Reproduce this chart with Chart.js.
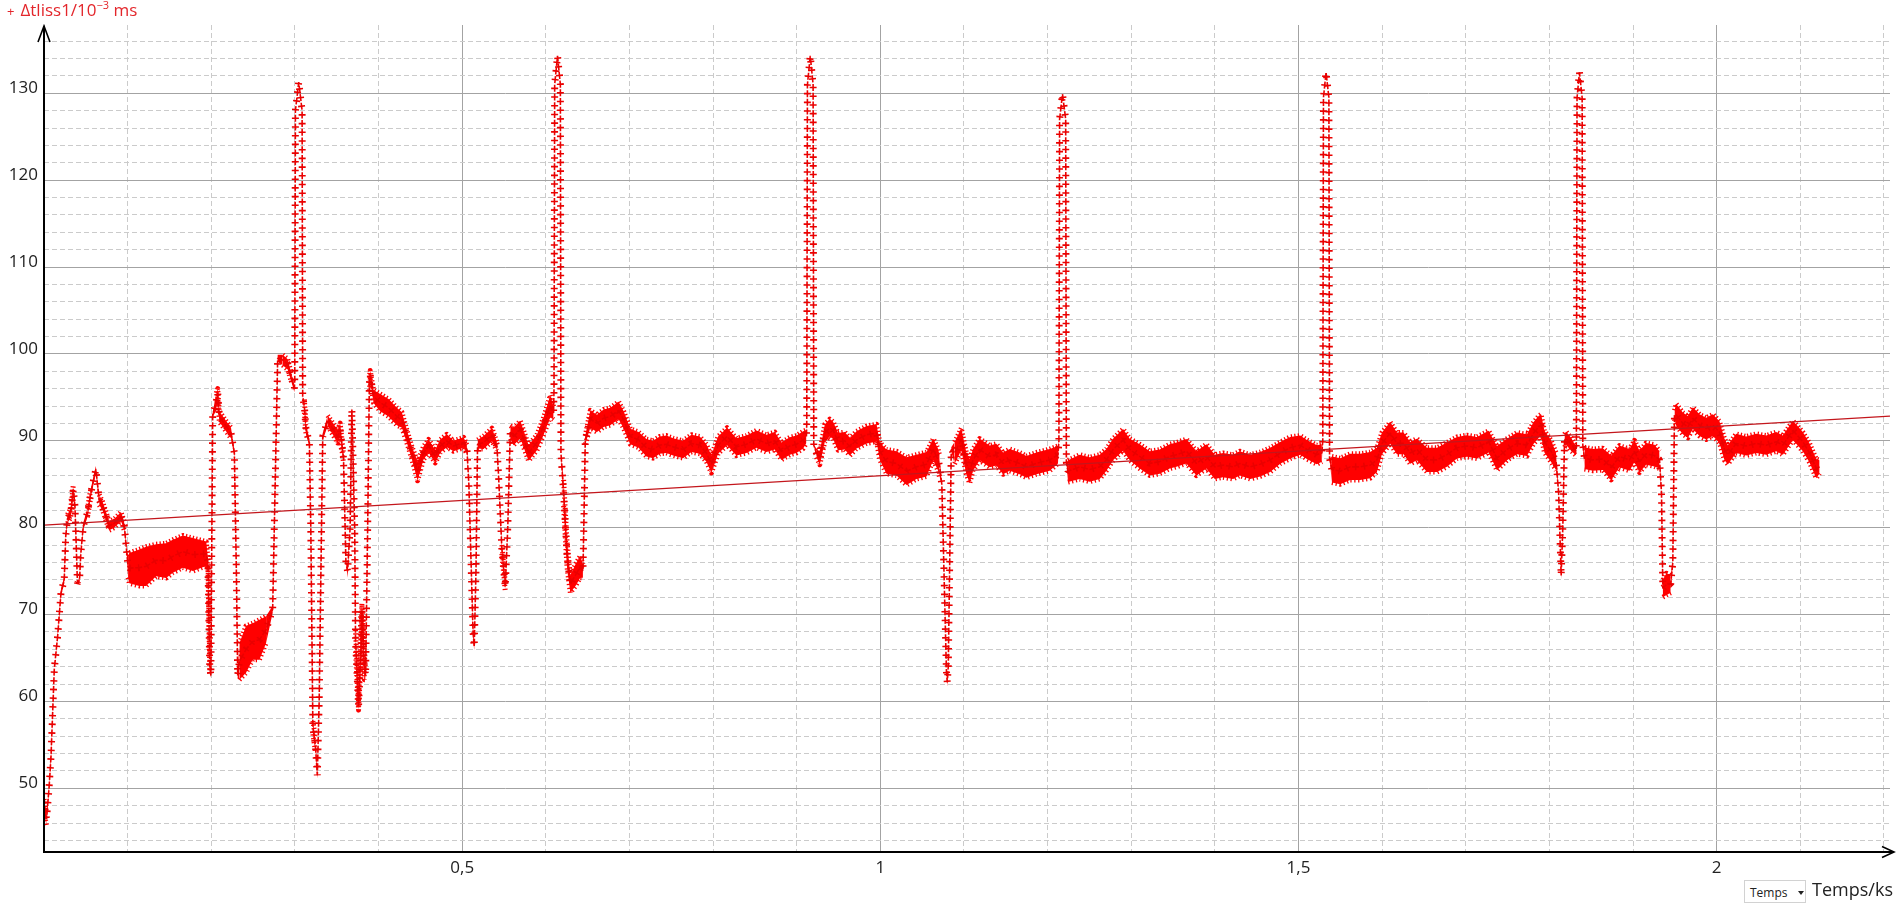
<!DOCTYPE html>
<html>
<head>
<meta charset="utf-8">
<script src="https://cdn.jsdelivr.net/npm/chart.js"></script>
<style>
  body { margin: 0; background: #fff; }
  #wrap { position: relative; width: 1896px; height: 906px; font-family: 'Open Sans', sans-serif; }
  #title { position: absolute; left: 7px; top: -3px; color: #e3262b; font-size: 17px; white-space: nowrap; }
  #title .mk { font-size: 13px; margin-right: 6px; }
  #title sup { font-size: 11px; }
  #sel { position: absolute; left: 1744px; top: 880px; width: 62px; height: 23px; border: 1px solid #d2d2d2;
         font-size: 12px; line-height: 23px; padding-left: 5px; box-sizing: border-box; color: #222; background: #fff; }
  #sel .tri { position: absolute; left: 53px; top: 10px; width: 0; height: 0;
              border-left: 3px solid transparent; border-right: 3px solid transparent; border-top: 4px solid #222; }
  #unit { position: absolute; right: 3px; top: 877px; font-size: 18px; color: #222; }
</style>
</head>
<body>
<div id="wrap">
  <canvas id="chart"></canvas>
  <div id="title"><span class="mk">+</span>Δtliss1/10<sup>−3</sup> ms</div>
  <div id="sel">Temps<span class="tri"></span></div>
  <div id="unit">Temps/ks</div>
</div>
<script>
// time in ks
const timeKs = [
  // start
  0.000, 0.003, 0.006, 0.0083, 0.0123, 0.0163, 0.0203, 0.0242, 0.026, 0.028,
  0.032, 0.035, 0.037, 0.040, 0.0425, 0.044, 0.047, 0.052, 0.056, 0.062,
  0.066, 0.070, 0.078, 0.084, 0.092, 0.096, 0.099, 0.1005,
  // 0.1 - 0.35
  0.102, 0.114, 0.122, 0.134, 0.146, 0.154, 0.166, 0.178, 0.194, 0.196,
  0.1982, 0.1995, 0.2017, 0.2060, 0.2077, 0.2096, 0.2176, 0.2236, 0.2276, 0.2300,
  0.2316, 0.2336, 0.2416, 0.2495, 0.2575, 0.2655, 0.2734, 0.2794, 0.2854, 0.2914,
  0.2954, 0.2994, 0.2998, 0.3006, 0.3046, 0.3086, 0.3093, 0.3113, 0.3133, 0.3173,
  0.3190, 0.3215, 0.3245, 0.3268, 0.3290, 0.3333, 0.3392, 0.3512,
  // 0.35 - 0.71
  0.3541, 0.3581, 0.3610, 0.3630, 0.3660, 0.3681, 0.3715, 0.3725, 0.3761, 0.3790,
  0.3801, 0.3830, 0.3845, 0.3870, 0.3890, 0.3900, 0.394, 0.402, 0.412, 0.4219,
  0.4279, 0.4339, 0.4399, 0.4467, 0.4538, 0.4598, 0.4678, 0.4738, 0.4817, 0.4897,
  0.5017, 0.5057, 0.5080, 0.5130, 0.5144, 0.5165, 0.5184, 0.5256, 0.5356, 0.5415,
  0.5435, 0.5475, 0.5515, 0.5545, 0.5575, 0.5615, 0.5695, 0.5794, 0.5894, 0.5974,
  0.6053, 0.6093, 0.6098, 0.6106, 0.6140, 0.6174, 0.6181, 0.6213, 0.6253, 0.6293,
  0.6353, 0.6412, 0.6444, 0.6458, 0.6472, 0.6532, 0.6612, 0.6691, 0.6771, 0.6871,
  0.6931, 0.7010, 0.7110,
  // 0.72 - 1.07
  0.7203, 0.7282, 0.7362, 0.7442, 0.7522, 0.7641, 0.7741, 0.7841, 0.7920, 0.7980,
  0.8060, 0.8167, 0.8279, 0.8399, 0.8518, 0.8638, 0.8738, 0.8817, 0.8917, 0.8997,
  0.9077, 0.9116, 0.9120, 0.9128, 0.9162, 0.9196, 0.9204, 0.9236, 0.9276, 0.9336,
  0.9396, 0.9435, 0.9495, 0.9575, 0.9635, 0.9715, 0.9834, 0.9954, 0.9994, 1.0073,
  1.0193, 1.0313, 1.0432, 1.0552, 1.0632, 1.0691,
  // 1.07 - 1.43
  1.0709, 1.0735, 1.0790, 1.0800, 1.0812, 1.0848, 1.0888, 1.0968, 1.1028, 1.1068,
  1.1108, 1.1187, 1.1307, 1.1387, 1.1467, 1.1546, 1.1666, 1.1746, 1.1865, 1.2025,
  1.2124, 1.2135, 1.2143, 1.2178, 1.2216, 1.2224, 1.2244, 1.2384, 1.2503, 1.2623,
  1.2703, 1.2782, 1.2902, 1.2982, 1.3101, 1.3221, 1.3340, 1.3460, 1.3540, 1.3659,
  1.3779, 1.3899, 1.3998, 1.4098, 1.4218, 1.4297,
  // 1.44 - 1.79
  1.4422, 1.4541, 1.4661, 1.4781, 1.4900, 1.5020, 1.5100, 1.5219, 1.5279, 1.5290,
  1.5298, 1.5329, 1.5363, 1.5371, 1.5399, 1.5498, 1.5618, 1.5738, 1.5857, 1.5937,
  1.5997, 1.6096, 1.6176, 1.6256, 1.6336, 1.6415, 1.6535, 1.6655, 1.6774, 1.6894,
  1.7014, 1.7133, 1.7273, 1.7372, 1.7492, 1.7612, 1.7731, 1.7811, 1.7871,
  // 1.79 - end
  1.7900, 1.7940, 1.8020, 1.8080, 1.8110, 1.8140, 1.8160, 1.8180, 1.8200, 1.8259,
  1.8319, 1.8322, 1.8330, 1.8359, 1.8391, 1.8399, 1.8419, 1.8518, 1.8638, 1.8738,
  1.8837, 1.8957, 1.9017, 1.9077, 1.9156, 1.9256, 1.9316, 1.9340, 1.9356, 1.9400,
  1.9450, 1.9475, 1.9495, 1.9515, 1.9595, 1.9655, 1.9715, 1.9794, 1.9874, 1.9954,
  2.0033, 2.0093, 2.0133, 2.0233, 2.0352, 2.0472, 2.0592, 2.0711, 2.0791, 2.0911,
  2.1030, 2.1110, 2.1190, 2.1230
];

// Δtliss1 in 10^-3 ms (middle of the trace)
const delay = [
  48.0, 46.5, 50.0, 53.5, 63.7, 67.5, 72.5, 74.0, 79.0, 81.0,
  81.7, 84.4, 82.5, 73.6, 74.0, 77.0, 80.2, 81.7, 84.0, 86.7,
  83.2, 82.5, 80.2, 80.5, 81.3, 80.2, 77.1, 75.5,

  75.35, 75.4, 75.55, 76.25, 76.2, 76.7, 77.25, 76.9, 77.0, 76.0,
  64.0, 63.0, 93.0, 94.5, 95.5, 92.8, 91.7, 90.9, 88.6, 75.0,
  63.0, 64.6, 66.0, 66.9, 67.1, 68.25, 70.6, 99.5, 99.3, 98.8,
  97.4, 96.0, 97, 128, 131.3, 128, 95, 94.0, 91.3, 89.8,
  80, 57, 55, 51.5, 60, 90.5, 92.3, 90.5,

  91.3, 88.0, 76.0, 75.0, 80, 93.6, 80, 67.0, 59.5, 66,
  70.5, 64, 63.0, 80, 96.5, 97.6, 95.1, 94.4, 93.8, 92.8,
  92.4, 90.5, 88.6, 86.5, 88.6, 89.4, 88.2, 89.4, 90.0, 89.4,
  89.8, 89.0, 85, 68, 66.3, 75, 89.6, 89.8, 90.7, 89.4,
  86, 77.5, 73.2, 80, 91.0, 90.5, 91.3, 88.6, 89.8, 91.7,
  94.0, 93.2, 96, 131, 134.3, 131, 88.6, 84, 77, 73.5,
  74.5, 75.5, 75, 82, 90.1, 92.5, 92, 92.6, 92.8, 93.5,
  92.4, 90.5, 90.1,

  89.2, 89.0, 89.5, 89.6, 89.3, 89.0, 89.7, 89.5, 88.6, 87.3,
  89.5, 90.5, 89.3, 89.6, 90.2, 89.7, 90.0, 88.8, 89.4, 89.6,
  90.1, 90.5, 92, 131, 134.3, 131, 89.5, 88.6, 88.0, 90.9,
  91.5, 91.2, 89.9, 90.0, 89.3, 90.1, 90.7, 90.9, 88.8, 87.6,
  87.4, 86.5, 87.0, 87.3, 89.0, 87.8,

  87.0, 85, 63.5, 62.2, 64, 89.0, 88.6, 90.2, 87.4, 86.5,
  87.8, 89.0, 88.2, 88.4, 87.4, 87.8, 87.4, 87.0, 87.4, 87.8,
  88.4, 90, 127, 129.9, 127, 87.5, 86.5, 87.0, 86.7, 87.0,
  87.8, 89.0, 90.1, 89.0, 88.2, 87.4, 87.6, 88.2, 88.4, 88.8,
  87.4, 88.2, 87.0, 87.2, 87.0, 87.4,

  87.0, 87.3, 87.8, 88.6, 89.2, 89.5, 89.0, 88.4, 88.6, 90,
  129.5, 132.4, 129.5, 88, 86.7, 86.5, 87.0, 87.0, 87.2, 87.8,
  89.7, 90.9, 89.7, 89.7, 88.6, 89.0, 87.8, 87.8, 88.4, 89.2,
  89.4, 89.2, 89.9, 88.0, 89.0, 89.7, 89.5, 90.9, 91.6,

  91.8, 89.9, 88.8, 87.6, 84, 74.5, 80, 90.0, 90.3, 89.6,
  88.8, 90, 129.5, 132.4, 129.5, 89.5, 88.0, 87.8, 87.9, 86.9,
  88.2, 87.8, 88.8, 87.6, 88.5, 88.3, 87.8, 84, 73.0, 73.5,
  73.5, 76, 93.0, 93.0, 92.0, 91.6, 92.6, 91.8, 91.4, 91.8,
  91.0, 89.0, 88.4, 89.7, 89.4, 89.7, 89.5, 89.9, 89.5, 91.2,
  89.9, 88.6, 86.8, 87.0
];

// visible thickness of the noisy band (same unit), 0 where single crosses show
const noise = [
  1.5, 1.5, 0.5, 1.0, 0, 0.5, 0.8, 0.8, 0.5, 1.0,
  1.0, 1.0, 0.5, 0, 0.8, 0.3, 0.8, 1.0, 1.0, 0.8,
  1.2, 1.0, 1.0, 1.0, 1.0, 1.0, 0.5, 2.5,

  3.5, 4.2, 4.5, 3.7, 4.0, 3.8, 3.7, 3.8, 2.8, 1.0,
  1.5, 0.5, 0.5, 2.0, 1.0, 1.2, 1.2, 1.2, 0.8, 0,
  0.8, 4.2, 5.4, 4.2, 4.6, 3.1, 0.8, 0.8, 1.2, 1.2,
  1.0, 0.8, 0, 0, 0, 0, 0, 1.5, 1.2, 0.8,
  0, 1.5, 1.5, 0.8, 0, 0.8, 1.2, 1.5,

  1.5, 1.0, 0, 1.5, 0, 0.5, 0, 2.5, 1.0, 3,
  1.5, 3, 1, 0, 1.5, 1.0, 1.5, 2, 2, 2,
  1.8, 1.5, 1.5, 2.2, 1.5, 1.5, 1.5, 1.5, 1.5, 1.2,
  1.2, 1.0, 0, 1.5, 0.8, 0, 1.0, 1.5, 1.5, 1.0,
  0, 1.0, 1.0, 0, 1.5, 2, 2, 1.8, 1.8, 2,
  2.5, 1.5, 0, 0, 0, 0, 0, 3, 3, 2,
  2.5, 2.5, 1.5, 0, 1.0, 2, 2, 2, 2, 2,
  2, 1.8, 1.8,

  2, 2, 2, 2, 2, 2, 2, 2, 2, 2,
  2, 2, 2, 2, 2, 2, 2, 2, 2, 2,
  2, 1.5, 0, 0, 0, 0, 0, 1.0, 1.5, 2,
  2, 2, 2, 2, 2, 2, 2, 2, 2, 2.8,
  2.8, 3.2, 2.8, 2.8, 2.5, 2.5,

  2.5, 0, 0, 1.0, 0, 0.5, 2.5, 2.5, 2.5, 2.8,
  2.5, 2.5, 2.5, 2.5, 2.5, 2.5, 2.5, 2.5, 2.5, 2.5,
  2.0, 0, 0, 0, 0, 0, 2.5, 2.8, 2.8, 2.8,
  2.5, 2.5, 2.5, 2.5, 2.8, 2.8, 2.8, 2.8, 2.8, 2.8,
  2.8, 2.8, 2.8, 2.8, 2.8, 2.8,

  2.8, 2.8, 2.8, 2.5, 2.5, 2.2, 2.2, 2.2, 2.0, 0,
  0, 0, 0, 0, 3, 3, 3, 3, 3, 2.8,
  2.5, 2.5, 2.5, 2.5, 2.5, 2.5, 2.8, 2.8, 2.8, 2.5,
  2.5, 2.5, 2.5, 2.8, 2.5, 2.5, 2.5, 2.5, 2.5,

  2.5, 2.5, 2.5, 2.0, 0, 0.8, 0, 1.5, 1.5, 1.5,
  1.0, 0, 0, 0, 0, 0, 2.5, 2.5, 2.5, 2.8,
  2.5, 2.5, 2.5, 2.5, 2.5, 2.5, 2.0, 0, 2.0, 2.5,
  2.0, 0.5, 1.0, 2.5, 2.5, 2.5, 2.5, 2.5, 2.5, 2.5,
  2.5, 2.5, 2.2, 2.2, 2.2, 2.2, 2.2, 2.2, 2.2, 2.2,
  2.2, 2.2, 2.2, 1.5
];

// fitted trend line
const trendT = [0, 2.2072];
const trendV = [80.3, 92.85];

const X_MIN = 0, X_MAX = 2.2072;
const Y_MIN = 42.67, Y_MAX = 137.86;

const RED = '#ff0000';
const NONE = 'rgba(0,0,0,0)';
const mid = timeKs.map((t, i) => ({ x: t, y: delay[i] }));
const hi = timeKs.map((t, i) => ({ x: t, y: delay[i] + noise[i] / 2 }));
const lo = timeKs.map((t, i) => ({ x: t, y: delay[i] - noise[i] / 2 }));
const trend = trendT.map((t, i) => ({ x: t, y: trendV[i] }));

// ragged band edge only where the band is really noisy
const edgeColor = c => (noise[c.p0DataIndex] >= 1 && noise[c.p1DataIndex] >= 1) ? RED : NONE;

const onStep = (v, step) => Math.abs(v / step - Math.round(v / step)) < 1e-6;
const font = { family: 'Open Sans', size: 17 };

const axisArrows = {
  id: 'axisArrows',
  afterDraw(chart) {
    const { ctx, chartArea: a } = chart;
    ctx.save();
    ctx.strokeStyle = '#000';
    ctx.lineWidth = 2;
    ctx.beginPath();
    ctx.moveTo(a.left, a.bottom); ctx.lineTo(a.left, a.top + 1);
    ctx.moveTo(a.left - 1, a.bottom); ctx.lineTo(1894, a.bottom);
    ctx.stroke();
    ctx.lineWidth = 1.6;
    ctx.beginPath();
    ctx.moveTo(a.left - 6, a.top + 17); ctx.lineTo(a.left, a.top + 1); ctx.lineTo(a.left + 6, a.top + 17);
    ctx.moveTo(1882, a.bottom - 5.5); ctx.lineTo(1894, a.bottom); ctx.lineTo(1882, a.bottom + 5.5);
    ctx.stroke();
    ctx.restore();
  }
};

new Chart(document.getElementById('chart'), {
  type: 'line',
  data: {
    datasets: [
      { data: trend, xAxisID: 'x', yAxisID: 'y', borderColor: '#c3161c', borderWidth: 1.2, pointRadius: 0, fill: false },
      // crosses: horizontal bars
      { data: mid, xAxisID: 'x', yAxisID: 'y', borderColor: '#ea0000', borderWidth: 7, borderDash: [1.6, 7.1],
        borderDashOffset: 6.0, borderCapStyle: 'butt', borderJoinStyle: 'bevel', pointRadius: 0, fill: false, tension: 0 },
      // crosses: vertical bars
      { data: mid, xAxisID: 'x', yAxisID: 'y', borderColor: '#ea0000', borderWidth: 1.6, borderDash: [7, 1.7],
        borderCapStyle: 'butt', borderJoinStyle: 'bevel', pointRadius: 0, fill: false, tension: 0 },
      // noisy band, edges drawn ragged
      { data: hi, xAxisID: 'x', yAxisID: 'y', borderColor: RED, backgroundColor: RED, borderWidth: 5,
        borderDash: [1.3, 2.2], borderCapStyle: 'butt', borderJoinStyle: 'round',
        segment: { borderColor: edgeColor }, pointRadius: 0, fill: '+1', tension: 0 },
      { data: lo, xAxisID: 'x', yAxisID: 'y', borderColor: RED, borderWidth: 5,
        borderDash: [1.3, 2.6], borderCapStyle: 'butt', borderJoinStyle: 'round',
        segment: { borderColor: edgeColor }, pointRadius: 0, fill: false, tension: 0 }
    ]
  },
  options: {
    responsive: true,
    maintainAspectRatio: false,
    animation: false,
    events: [],
    layout: { padding: { top: 25, right: 6, left: 0, bottom: 0 } },
    plugins: { legend: { display: false }, tooltip: { enabled: false } },
    scales: {
      x: {
        type: 'linear', position: 'bottom', min: X_MIN, max: X_MAX,
        afterFit(s) { s.height = 54; },
        ticks: {
          stepSize: 0.5, includeBounds: false, autoSkip: false, maxRotation: 0, padding: 6,
          color: '#222', font: font,
          callback: v => (v === 0 ? '' : String(v).replace('.', ','))
        },
        grid: { color: '#a3a3a3', lineWidth: 1, drawTicks: false },
        border: { display: false }
      },
      xMinor: {
        type: 'linear', position: 'bottom', axis: 'x', min: X_MIN, max: X_MAX,
        afterFit(s) { s.height = 0; },
        ticks: { stepSize: 0.1, includeBounds: false, display: false },
        grid: {
          drawTicks: false,
          color: c => (c.tick && onStep(c.tick.value, 0.5)) ? NONE : '#cbcbcb'
        },
        border: { display: false, dash: [5, 3] }
      },
      y: {
        type: 'linear', position: 'left', min: Y_MIN, max: Y_MAX,
        afterFit(s) { s.width = 44; },
        ticks: { stepSize: 10, includeBounds: false, padding: 6, labelOffset: -5, color: '#222', font: font },
        grid: { color: '#a3a3a3', lineWidth: 1, drawTicks: false },
        border: { display: false }
      },
      yMinor: {
        type: 'linear', position: 'left', axis: 'y', min: Y_MIN, max: Y_MAX,
        afterFit(s) { s.width = 0; },
        ticks: { stepSize: 2, includeBounds: false, display: false },
        grid: {
          drawTicks: false,
          color: c => (c.tick && onStep(c.tick.value, 10)) ? NONE : '#cbcbcb'
        },
        border: { display: false, dash: [5, 3] }
      }
    }
  },
  plugins: [axisArrows]
});
</script>
</body>
</html>
